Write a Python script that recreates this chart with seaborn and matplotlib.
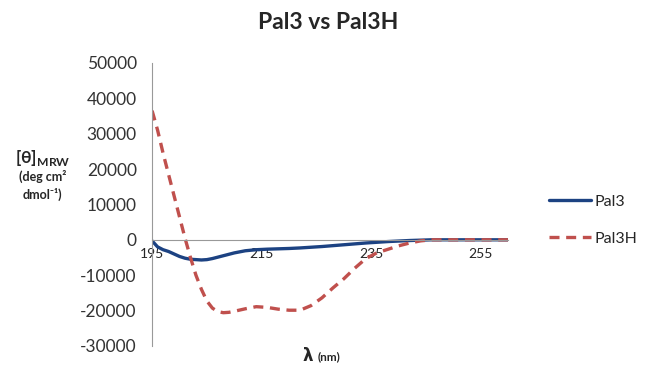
import pandas as pd
import seaborn as sns
import matplotlib.pyplot as plt

# wavelength (nm)
wl = [195, 196, 197, 198, 199, 200, 201, 202, 203, 204, 205, 206, 207, 208, 209,
      210, 212, 214, 216, 218, 220, 222, 224, 226, 228, 230, 232, 234, 236, 238,
      240, 242, 244, 246, 248, 250, 252, 254, 256, 258, 260]

pal3 = [-300, -2000, -2800, -3300, -4000, -4700, -5200, -5500, -5600, -5700, -5600,
        -5300, -4900, -4500, -4100, -3700, -3100, -2800, -2650, -2550, -2450, -2300,
        -2100, -1900, -1650, -1400, -1150, -900, -700, -500, -350, -200, -100,
        0, 0, 0, 0, 0, 0, 0, 0]

pal3h = [36500, 31000, 24500, 18500, 12500, 6500, 500, -5000, -10000, -14000, -17300,
         -19300, -20300, -20600, -20500, -20200, -19500, -18900, -19100, -19600,
         -19900, -19900, -18600, -16400, -13600, -11000, -8000, -5300, -3700, -2700,
         -1700, -900, -300, 0, 0, 0, 0, 0, 0, 0, 0]

yticks = list(range(-30000, 50001, 10000))
xticks = [195, 215, 235, 255]

df = pd.DataFrame({"wl": wl * 2,
                   "val": pal3 + pal3h,
                   "series": ["Pal3"] * len(wl) + ["Pal3H"] * len(wl)})

sns.set_style("white")
plt.rcParams["font.family"] = ["Lato", "DejaVu Sans"]

fig = plt.figure(figsize=(6.5, 3.7), dpi=100)
ax = fig.add_axes([0.234, 0.065, 0.548, 0.765])

sns.lineplot(data=df[df.series == "Pal3"], x="wl", y="val", color="#1c4282",
             lw=2.4, ax=ax, label="Pal3")
sns.lineplot(data=df[df.series == "Pal3H"], x="wl", y="val", color="#c0504d",
             lw=2.4, ax=ax, label="Pal3H", dashes=False)
ax.lines[1].set_dashes([3, 2])

ax.set_xlim(195, 260)
ax.set_ylim(-30000, 50000)
ax.set_yticks(yticks)
ax.set_yticklabels([str(t) for t in yticks], fontsize=12.5, color="#333333")
ax.set_xticks(xticks)
ax.set_xticklabels([str(t) for t in xticks], fontsize=12.5, color="#333333")
ax.spines["bottom"].set_position(("data", 0))
for s in ["top", "right"]:
    ax.spines[s].set_visible(False)
for s in ["left", "bottom"]:
    ax.spines[s].set_color("#999999")
ax.tick_params(axis="y", direction="out", length=4, color="#999999", pad=7)
ax.tick_params(axis="x", direction="in", length=4, color="#999999", pad=6)
ax.set_xlabel("")
ax.set_ylabel("")

fig.text(0.505, 0.94, "Pal3 vs Pal3H", ha="center", va="center",
         fontsize=16.5, fontweight="bold")
fig.text(0.483, 0.04, r"$\mathbf{\lambda}$", ha="right", va="center",
         fontsize=12, fontweight="bold")
fig.text(0.488, 0.035, "(nm)", ha="left", va="center",
         fontsize=8.5, fontweight="bold")
fig.text(0.066, 0.573, r"[θ]$_{\mathregular{MRW}}$", ha="center", va="center",
         fontsize=12.5, fontweight="bold")
fig.text(0.066, 0.5, "(deg cm²\ndmol⁻¹)", ha="center", va="center",
         fontsize=9, fontweight="bold", linespacing=1.45)

ax.legend(loc="center left", bbox_to_anchor=(0.845, 0.405), bbox_transform=fig.transFigure,
          frameon=False, fontsize=11.5, handlelength=2.6, labelspacing=1.4,
          handletextpad=0.25, borderaxespad=0, borderpad=0)

fig.savefig("out.png", dpi=100)
